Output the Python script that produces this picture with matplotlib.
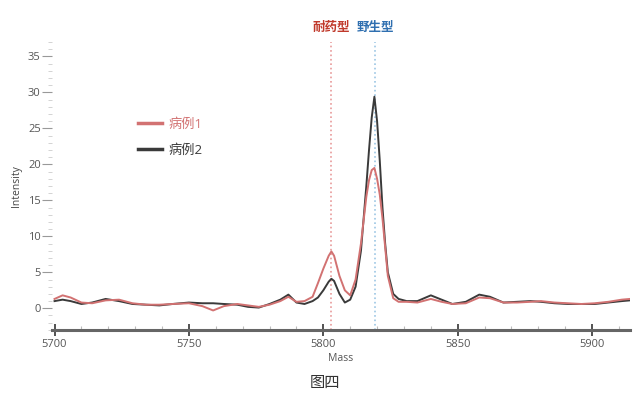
import matplotlib
matplotlib.use("Agg")
import matplotlib.pyplot as plt
from matplotlib.ticker import MultipleLocator
import matplotlib.transforms as mtransforms

plt.rcParams['font.family'] = ['Open Sans', 'Noto Sans CJK SC', 'DejaVu Sans']

# Mass axis points
mass = [5700, 5703, 5706, 5710, 5714, 5719, 5724, 5729, 5734, 5739, 5744, 5750,
        5755, 5759, 5763, 5768, 5772, 5776, 5780, 5784, 5787, 5790, 5793, 5796,
        5798, 5800, 5802, 5803, 5804, 5806, 5808, 5810, 5812, 5814, 5816, 5817,
        5818, 5819, 5820, 5821, 5822, 5823, 5824, 5826, 5828, 5831, 5835, 5840,
        5844, 5848, 5853, 5858, 5862, 5867, 5872, 5877, 5881, 5886, 5891, 5896,
        5901, 5906, 5911, 5914]

# case 1 (red)
case1 = [1.3, 1.8, 1.5, 0.8, 0.7, 1.1, 1.2, 0.7, 0.5, 0.5, 0.6, 0.7,
         0.3, -0.3, 0.3, 0.6, 0.4, 0.2, 0.5, 1.0, 1.6, 0.9, 1.0, 1.6,
         3.5, 5.5, 7.3, 7.9, 7.3, 4.5, 2.5, 1.8, 4.0, 9.0, 15.5, 17.8,
         19.2, 19.5, 18.0, 15.8, 12.5, 8.5, 4.5, 1.4, 0.9, 0.9, 0.8, 1.3,
         0.9, 0.6, 0.7, 1.5, 1.4, 0.8, 0.8, 0.9, 1.0, 0.8, 0.7, 0.6,
         0.7, 0.9, 1.2, 1.3]

# case 2 (black)
case2 = [1.0, 1.2, 1.0, 0.6, 0.8, 1.3, 1.0, 0.6, 0.5, 0.4, 0.6, 0.8,
         0.7, 0.7, 0.6, 0.5, 0.2, 0.1, 0.6, 1.2, 1.9, 0.8, 0.6, 1.0,
         1.5, 2.5, 3.7, 4.1, 3.8, 2.0, 0.8, 1.2, 3.0, 8.0, 17.0, 22.0,
         26.5, 29.4, 26.0, 20.5, 14.0, 9.0, 5.0, 2.0, 1.3, 1.0, 1.0, 1.8,
         1.2, 0.6, 0.9, 1.9, 1.6, 0.8, 0.9, 1.0, 0.9, 0.7, 0.6, 0.6,
         0.6, 0.8, 1.0, 1.1]

resistant_mass = 5803
wild_mass = 5819.3

red = "#d27272"
dark = "#3a3a3a"

fig = plt.figure(figsize=(6.4, 4.16), dpi=100)
ax = fig.add_axes([0.081, 0.207, 0.903, 0.692])

ax.axvline(resistant_mass, color="#e89a9a", lw=1.2, ls=":", zorder=1)
ax.axvline(wild_mass, color="#9cc6e4", lw=1.2, ls=":", zorder=1)

ax.plot(mass, case1, color=red, lw=1.4, label="病例1", zorder=3)
ax.plot(mass, case2, color=dark, lw=1.4, label="病例2", zorder=2)

trans = mtransforms.blended_transform_factory(ax.transData, ax.transAxes)
ax.text(resistant_mass, 1.052, "耐药型", transform=trans, ha="center", va="center",
        color="#c0392b", fontsize=9, fontweight="bold")
ax.text(wild_mass, 1.052, "野生型", transform=trans, ha="center", va="center",
        color="#2f6fb0", fontsize=9, fontweight="bold")

ax.set_xlim(5699, 5914)
ax.set_ylim(-3, 37)

for side in ["top", "right", "left"]:
    ax.spines[side].set_visible(False)
ax.spines["bottom"].set_color("#666666")
ax.spines["bottom"].set_linewidth(2.2)

ax.xaxis.set_major_locator(MultipleLocator(50))
ax.xaxis.set_minor_locator(MultipleLocator(10))
ax.yaxis.set_major_locator(MultipleLocator(5))
ax.yaxis.set_minor_locator(MultipleLocator(1))

ax.tick_params(axis="x", which="major", direction="inout", length=9, width=1.3,
               color="#444444", labelsize=8, labelcolor="#555555", pad=2)
ax.tick_params(axis="x", which="minor", direction="in", length=3, width=0.8,
               color="#bbbbbb")
ax.tick_params(axis="y", which="major", direction="out", length=7, width=0.8,
               color="#999999", labelsize=8, labelcolor="#555555", pad=1)
ax.tick_params(axis="y", which="minor", direction="out", length=3, width=0.6,
               color="#cccccc")

ax.set_xlabel("Mass", fontsize=7.5, color="#555555", labelpad=2)
ax.set_ylabel("Intensity", fontsize=7.5, color="#444444", labelpad=4)

leg = ax.legend(loc="upper left", bbox_to_anchor=(0.14, 0.755), frameon=False,
                fontsize=9.5, handlelength=1.8, labelcolor="linecolor",
                borderaxespad=0, handletextpad=0.5, labelspacing=1.0)
for line in leg.get_lines():
    line.set_linewidth(2.5)

fig.text(0.508, 0.078, "图四", ha="center", va="center", fontsize=11, color="#333333")

fig.savefig("out.png", dpi=100)
